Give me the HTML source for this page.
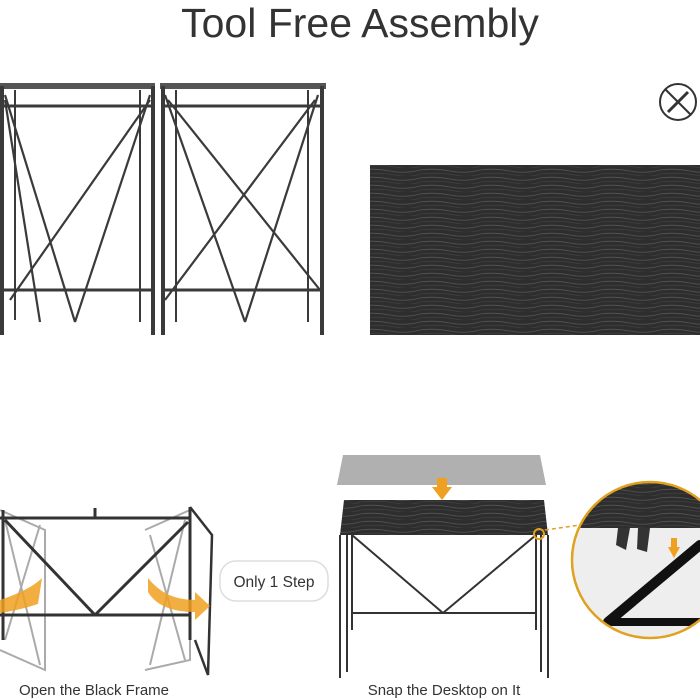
<!DOCTYPE html>
<html><head><style>
html,body{margin:0;padding:0;background:#fff;}
svg{display:block}
text{font-family:"Liberation Sans",sans-serif}
</style></head><body>
<svg width="700" height="700" viewBox="0 0 700 700" xmlns="http://www.w3.org/2000/svg">
<defs>
<pattern id="grain" width="60" height="8" patternUnits="userSpaceOnUse">
<rect width="60" height="8" fill="#2e2e2e"/>
<path d="M0 2 Q15 0 30 3 T60 2" stroke="#555" stroke-width="0.8" fill="none"/>
<path d="M0 6 Q20 4 35 7 T60 6" stroke="#444" stroke-width="0.6" fill="none"/>
</pattern>
<clipPath id="cc"><circle cx="650" cy="560" r="78"/></clipPath>
</defs>
<text x="360" y="37" font-size="41" fill="#333" text-anchor="middle">Tool Free Assembly</text>

<g stroke="#3a3a3a" fill="none">
<rect x="-2" y="83" width="157" height="6" fill="#555" stroke="none"/>
<rect x="160" y="83" width="166" height="6" fill="#555" stroke="none"/>
<line x1="0" y1="106" x2="155" y2="106" stroke-width="3"/>
<line x1="162" y1="106" x2="322" y2="106" stroke-width="3"/>
<line x1="0" y1="290" x2="155" y2="290" stroke-width="3"/>
<line x1="162" y1="290" x2="322" y2="290" stroke-width="3"/>
<line x1="2" y1="86" x2="2" y2="335" stroke-width="4"/>
<line x1="15" y1="90" x2="15" y2="320" stroke-width="2"/>
<line x1="140" y1="90" x2="140" y2="322" stroke-width="2"/>
<line x1="153" y1="86" x2="153" y2="335" stroke-width="4"/>
<line x1="163" y1="86" x2="163" y2="335" stroke-width="4"/>
<line x1="176" y1="90" x2="176" y2="322" stroke-width="2"/>
<line x1="308" y1="90" x2="308" y2="322" stroke-width="2"/>
<line x1="322" y1="86" x2="322" y2="335" stroke-width="4"/>
<g stroke-width="2.2">
<line x1="5" y1="95" x2="75" y2="322"/><line x1="75" y1="322" x2="150" y2="95"/>
<line x1="10" y1="300" x2="150" y2="100"/><line x1="5" y1="100" x2="40" y2="322"/>
<line x1="165" y1="95" x2="245" y2="322"/><line x1="245" y1="322" x2="318" y2="95"/>
<line x1="168" y1="100" x2="320" y2="290"/><line x1="165" y1="300" x2="315" y2="100"/>
</g>
</g>

<circle cx="678" cy="102" r="18" fill="none" stroke="#333" stroke-width="2"/>
<line x1="665" y1="89" x2="691" y2="115" stroke="#333" stroke-width="2"/>
<line x1="668" y1="112" x2="688" y2="92" stroke="#333" stroke-width="3"/>

<rect x="370" y="165" width="332" height="170" fill="url(#grain)"/>

<g fill="none">
<g stroke="#aaa" stroke-width="2">
<polyline points="0,510 45,530 45,670 0,650"/><line x1="5" y1="520" x2="40" y2="665"/><line x1="40" y1="525" x2="5" y2="640"/>
<polyline points="145,530 190,510 190,660 145,670"/><line x1="150" y1="535" x2="185" y2="660"/><line x1="185" y1="520" x2="150" y2="665"/>
</g>
<g stroke="#333" stroke-width="3">
<line x1="0" y1="518" x2="190" y2="518"/><line x1="0" y1="615" x2="190" y2="615"/>
<line x1="3" y1="510" x2="3" y2="640"/><line x1="190" y1="507" x2="190" y2="640"/>
<line x1="5" y1="520" x2="95" y2="615"/><line x1="95" y1="615" x2="188" y2="522"/>
<line x1="95" y1="508" x2="95" y2="518"/>
<polyline points="190,507 212,535 208,675 195,640" stroke-width="2.5"/>
</g>
</g>
<path d="M0 600 Q30 590 42 578 L38 604 Q20 610 0 613Z" fill="#f0a020" opacity="0.85"/>
<path d="M148 578 Q165 600 195 600 L195 592 L210 606 L195 620 L195 612 Q160 612 148 592Z" fill="#f0a020" opacity="0.85"/>
<text x="94" y="695" font-size="15" fill="#333" text-anchor="middle">Open the Black Frame</text>

<rect x="220" y="561" width="108" height="40" rx="16" fill="#fff" stroke="#ddd" stroke-width="1.5"/>
<text x="274" y="587" font-size="15.5" fill="#333" text-anchor="middle">Only 1 Step</text>

<polygon points="343,455 540,455 546,485 337,485" fill="#b0b0b0"/>
<rect x="437" y="478" width="10" height="10" fill="#f0a020"/>
<polygon points="432,487 452,487 442,500" fill="#f0a020"/>
<polygon points="344,500 544,500 548,535 340,535" fill="url(#grain)"/>
<g stroke="#333" stroke-width="2" fill="none">
<line x1="340" y1="535" x2="340" y2="678"/><line x1="347" y1="535" x2="347" y2="672"/><line x1="352" y1="535" x2="352" y2="630"/>
<line x1="548" y1="535" x2="548" y2="678"/><line x1="541" y1="535" x2="541" y2="672"/><line x1="536" y1="535" x2="536" y2="630"/>
<line x1="352" y1="535" x2="443" y2="613"/><line x1="443" y1="613" x2="536" y2="535"/>
<line x1="352" y1="613" x2="536" y2="613"/>
</g>
<circle cx="539" cy="534" r="5" fill="none" stroke="#e0a020" stroke-width="2"/>
<line x1="545" y1="530" x2="580" y2="525" stroke="#e0a020" stroke-width="1.5" stroke-dasharray="4,3"/>
<text x="444" y="695" font-size="15" fill="#333" text-anchor="middle">Snap the Desktop on It</text>

<g clip-path="url(#cc)">
<rect x="560" y="478" width="170" height="170" fill="#eee"/>
<rect x="560" y="478" width="170" height="50" fill="url(#grain)"/>
<path d="M618 528 l12 0 l-4 22 l-10 -5Z M638 528 l12 0 l-3 24 l-10 -3Z" fill="#333"/>
<line x1="608" y1="622" x2="700" y2="545" stroke="#111" stroke-width="10" stroke-linecap="round"/>
<line x1="608" y1="622" x2="710" y2="622" stroke="#111" stroke-width="8"/>
<polygon points="668,547 680,547 674,558" fill="#f0a020"/><rect x="671" y="538" width="6" height="10" fill="#f0a020"/>
</g>
<circle cx="650" cy="560" r="78" fill="none" stroke="#e0a020" stroke-width="2.5"/>
</svg>
</body></html>
